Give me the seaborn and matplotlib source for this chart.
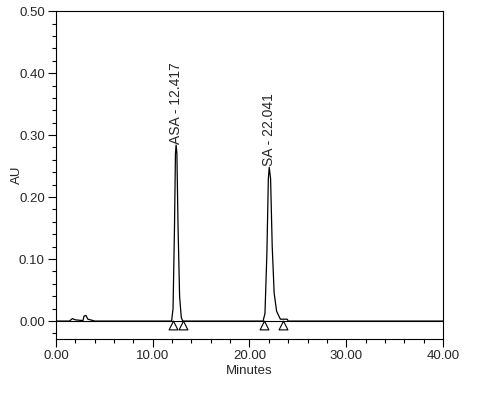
import numpy as np
import pandas as pd
import seaborn as sns
import matplotlib
matplotlib.use("Agg")
import matplotlib.pyplot as plt
from matplotlib.ticker import MultipleLocator, FormatStrFormatter

# chromatogram trace (minutes, AU)
minutes = [0.0, 1.4, 1.7, 2.0, 2.6, 2.8, 2.9, 3.1, 3.3, 3.8, 4.0,
           11.95, 12.1, 12.25, 12.35, 12.417, 12.5, 12.62, 12.78, 12.95, 13.1,
           21.4, 21.6, 21.8, 21.95, 22.041, 22.18, 22.35, 22.55, 22.8, 23.1, 23.2, 23.9, 24.0,
           40.0]
au = [0.0, 0.0, 0.004, 0.002, 0.001, 0.001, 0.008, 0.009, 0.003, 0.001, 0.0,
      0.0, 0.02, 0.15, 0.27, 0.284, 0.27, 0.15, 0.04, 0.006, 0.0,
      0.0, 0.012, 0.11, 0.23, 0.248, 0.23, 0.12, 0.045, 0.016, 0.006, 0.003, 0.003, 0.0,
      0.0]

# peak names and retention times
peak_names = ["ASA", "SA"]
peak_rt = [12.417, 22.041]
peak_height = [0.284, 0.248]

# integration start/stop marks
mark_x = [12.05, 13.15, 21.5, 23.5]
mark_y = [-0.007, -0.007, -0.007, -0.007]

sns.set_style("ticks")
plt.rcParams['font.family'] = ['Liberation Sans', 'DejaVu Sans']

fig = plt.figure(figsize=(4.95, 3.97), dpi=100)
ax = fig.add_axes([0.113, 0.146, 0.782, 0.826])

ax.axhline(0, color="black", lw=0.8)
trace = pd.DataFrame({"Minutes": minutes, "AU": au})
sns.lineplot(data=trace, x="Minutes", y="AU", color="black", lw=0.9, ax=ax)
sns.scatterplot(x=mark_x, y=mark_y, marker="^", s=40, facecolor="white",
                edgecolor="black", linewidth=0.8, ax=ax, zorder=3)

for name, rt, h in zip(peak_names, peak_rt, peak_height):
    ax.text(rt, h + 0.002, f"{name} - {rt:.3f}", rotation=90, ha="center",
            va="bottom", fontsize=10)

ax.set_xlim(0, 40)
ax.set_ylim(-0.029, 0.50)
ax.xaxis.set_major_locator(MultipleLocator(10))
ax.xaxis.set_minor_locator(MultipleLocator(2))
ax.yaxis.set_major_locator(MultipleLocator(0.1))
ax.yaxis.set_minor_locator(MultipleLocator(0.02))
ax.xaxis.set_major_formatter(FormatStrFormatter("%.2f"))
ax.yaxis.set_major_formatter(FormatStrFormatter("%.2f"))
ax.tick_params(which="major", length=6, width=0.8, labelsize=9.5, color="black", pad=2)
ax.tick_params(which="minor", length=3, width=0.8, color="black")
for s in ax.spines.values():
    s.set_color("black")
    s.set_linewidth(0.8)
ax.set_xlabel("Minutes", fontsize=9.5, labelpad=2)
ax.set_ylabel("AU", fontsize=9.5)
ax.yaxis.set_label_coords(-0.085, 0.5)

fig.savefig("out.png", dpi=100)
